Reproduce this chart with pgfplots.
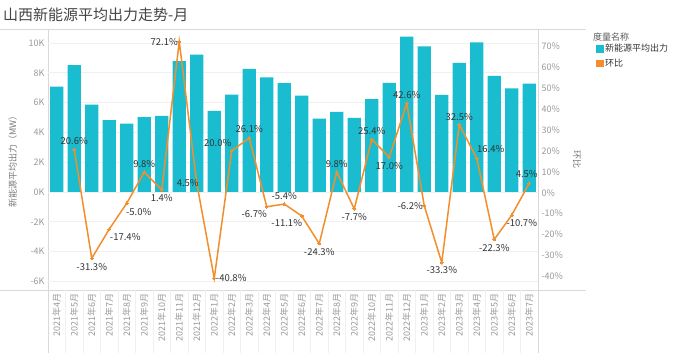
\documentclass[border=0pt]{standalone}
\usepackage{pgfplots}
\pgfplotsset{compat=1.18}
\usepackage{pgfplotstable}
\usepackage{fontspec}
\setmainfont{Noto Sans CJK SC}
\definecolor{barcol}{HTML}{19BDCF}
\definecolor{linecol}{HTML}{F28E2B}
\definecolor{gridc}{HTML}{F0F0F0}
\definecolor{framec}{HTML}{D9D9D9}
\definecolor{tickc}{HTML}{999999}
\definecolor{labc}{HTML}{333333}
\definecolor{titc}{HTML}{444444}
\pgfplotsset{/pgf/number format/assume math mode=true}

\pgfplotstableread{
x v
0 7.07
1 8.52
2 5.86
3 4.83
4 4.58
5 5.03
6 5.10
7 8.79
8 9.22
9 5.44
10 6.53
11 8.26
12 7.70
13 7.30
14 6.46
15 4.92
16 5.37
17 4.97
18 6.24
19 7.32
20 10.42
21 9.78
22 6.51
23 8.66
24 10.05
25 7.79
26 6.96
27 7.27
}\bars

\pgfplotstableread{
x v dx dy
1 20.6 0 9
2 -31.3 0 -8.4
3 -17.4 16 -8
4 -5.0 12 -8.5
5 9.8 0 8
6 1.4 0 -8.5
7 72.1 -15 0
8 4.5 -9 0
9 -40.8 17 0
10 20.0 -14 8
11 26.1 0 8.7
12 -6.7 -12.5 -7.6
13 -5.4 0 8
14 -11.1 -15 -7.5
15 -24.3 0 -8
16 9.8 0 8
17 -7.7 0 -8
18 25.4 0 8.5
19 17.0 0 -8.6
20 42.6 0 8.7
21 -6.2 -14 0
22 -33.3 0 -7.5
23 32.5 0 8
24 16.4 14 9
25 -22.3 0 -8.3
26 -10.7 10 -7.6
27 4.5 -2.5 9
}\ratio

\begin{document}
\begin{tikzpicture}
\useasboundingbox (0pt,0pt) rectangle (673pt,353pt);
% frame lines
\draw[framec, line width=0.8pt] (0pt,324pt) -- (586pt,324pt);
\draw[framec, line width=0.8pt] (0pt,63pt) -- (586pt,63pt);
\draw[framec, line width=0.8pt] (48pt,324pt) -- (48pt,0pt);
\draw[framec, line width=0.8pt] (538pt,324pt) -- (538pt,0pt);
\node[anchor=west, font=\fontsize{15}{17}\selectfont, text=titc, inner sep=0pt] at (3pt,338pt) {山西新能源平均出力走势-月};
\node[anchor=west, font=\fontsize{9}{10}\selectfont, text=labc!80!white, inner sep=0pt] at (593pt,316pt) {度量名称};
\node[rotate=-90, font=\fontsize{9}{10}\selectfont, text=tickc!80!black, inner sep=0pt] at (577pt,193pt) {环比};

\begin{axis}[
  at={(48pt,63pt)}, anchor=south west,
  scale only axis, width=490pt, height=261pt,
  xmin=-0.5, xmax=27.5, ymin=-6.58, ymax=10.94,
  xtick pos=lower,
  xtick={0,...,27},
  xticklabels={2021年4月,2021年5月,2021年6月,2021年7月,2021年8月,2021年9月,2021年10月,2021年11月,2021年12月,2022年1月,2022年2月,2022年3月,2022年4月,2022年5月,2022年6月,2022年7月,2022年8月,2022年9月,2022年10月,2022年11月,2022年12月,2023年1月,2023年2月,2023年3月,2023年4月,2023年5月,2023年6月,2023年7月},
  xticklabel style={rotate=90, anchor=east, font=\fontsize{9}{10}\selectfont, text=tickc},
  extra x ticks={0.5,1.5,...,26.5},
  extra x tick labels={},
  extra x tick style={grid=none, xtick pos=lower, tick align=outside, major tick length=63pt, tick style={gridc, line width=0.6pt}},
  ytick={-6,-4,...,10},
  yticklabel={\pgfmathprintnumber{\tick}K},
  yticklabel style={font=\fontsize{9}{10}\selectfont, text=tickc},
  ymajorgrids, grid style={gridc, line width=0.6pt},
  axis line style={draw=none}, major tick length=0pt,
  ylabel={新能源平均出力（MW）},
  ylabel style={at={(axis description cs:-0.072,0.5)}, anchor=center, font=\fontsize{9}{10}\selectfont, text=tickc!80!black},
]
\addplot[ybar, bar width=13.3pt, fill=barcol, draw=none] table[x=x,y=v]{\bars};
\end{axis}

\begin{axis}[
  at={(48pt,63pt)}, anchor=south west,
  scale only axis, width=490pt, height=261pt,
  xmin=-0.5, xmax=27.5, ymin=-46.4, ymax=78.1,
  axis x line=none, axis y line*=right,
  ytick={-40,-30,...,70},
  yticklabel={\pgfmathprintnumber{\tick}\%},
  yticklabel style={font=\fontsize{9}{10}\selectfont, text=tickc},
  axis line style={draw=none}, major tick length=0pt,
  legend style={at={(axis description cs:1.118,0.95)}, anchor=north west, draw=none, fill=none, font=\fontsize{9}{10}\selectfont, text=labc, row sep=1.5pt, inner sep=0pt},
  legend cell align=left,
]
\addlegendimage{legend image code/.code={\fill[barcol] (0pt,-3.3pt) rectangle (6.7pt,3.4pt);}}
\addlegendentry{新能源平均出力}
\addlegendimage{legend image code/.code={\fill[linecol] (0pt,-3.3pt) rectangle (6.7pt,3.4pt);}}
\addlegendentry{环比}
\addplot[linecol, line width=1.5pt, mark=*, mark size=1.3pt, mark options={fill=linecol, draw=linecol, line width=0pt}, forget plot,
  visualization depends on={\thisrow{dx} \as \dx},
  visualization depends on={\thisrow{dy} \as \dy},
  point meta=y,
  nodes near coords={\pgfmathprintnumber[fixed,fixed zerofill,precision=1]{\pgfplotspointmeta}\%},
  nodes near coords style={anchor=center, xshift=\dx pt, yshift=\dy pt, font=\fontsize{9.5}{10}\selectfont, text=labc, inner sep=0pt},
] table[x=x,y=v]{\ratio};
\end{axis}
\end{tikzpicture}
\end{document}
